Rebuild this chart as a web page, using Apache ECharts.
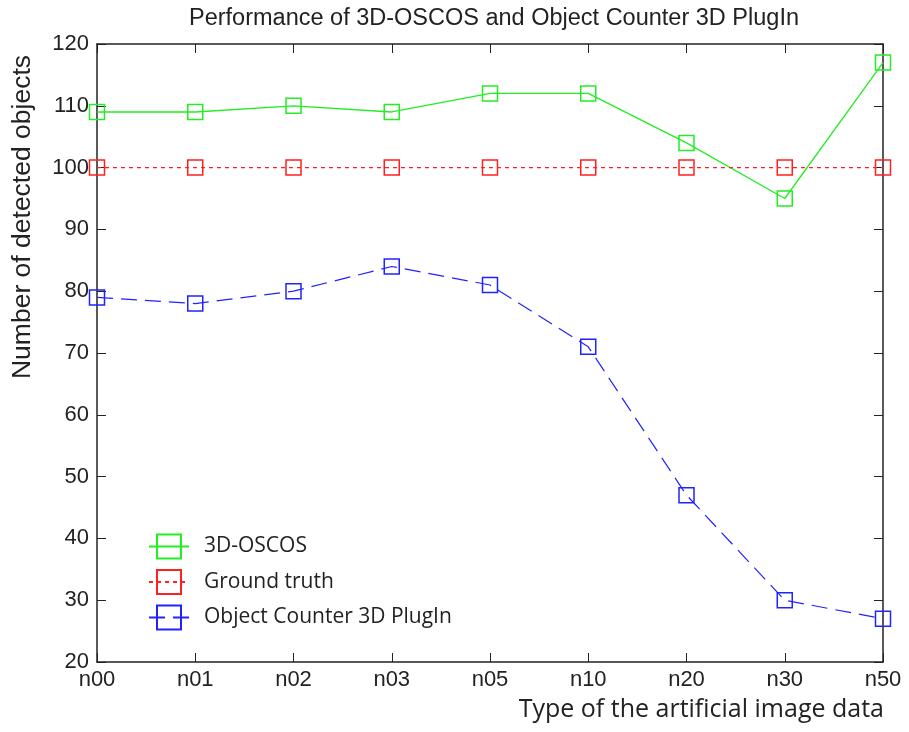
<!DOCTYPE html>
<html><head><meta charset="utf-8">
<script src="https://cdn.jsdelivr.net/npm/echarts@6/dist/echarts.min.js"></script>
<style>html,body{margin:0;padding:0;background:#fff}#c{width:909px;height:732px}</style>
</head><body><div id="c"></div>
<script>
const categories = ['n00','n01','n02','n03','n05','n10','n20','n30','n50'];
const oscos = [109,109,110,109,112,112,104,95,117];
const groundTruth = [100,100,100,100,100,100,100,100,100];
const plugin = [79,78,80,84,81,71,47,30,27];
const yTicks = [20,30,40,50,60,70,80,90,100,110,120];

const chart = echarts.init(document.getElementById('c'));
const axisFont = {fontFamily:'Liberation Sans, Arial', fontSize:22, color:'#222'};
const grid = {left:97, top:44, width:786, height:618};
chart.setOption({
  animation:false,
  backgroundColor:'#fff',
  title:{text:'Performance of 3D-OSCOS and Object Counter 3D PlugIn', left:489, top:2, textAlign:'center',
    textStyle:{fontFamily:'Liberation Sans, Arial', fontSize:23.5, fontWeight:'normal', color:'#222'}},
  grid:grid,
  legend:{orient:'vertical', left:143, top:527, itemWidth:40, itemHeight:30, itemGap:6.5,
    textStyle:{fontFamily:'Open Sans', fontSize:21, color:'#222', padding:[0,0,0,10]},
    data:['3D-OSCOS','Ground truth','Object Counter 3D PlugIn']},
  xAxis:[{type:'category', data:categories, boundaryGap:false,
    axisLine:{lineStyle:{color:'#222', width:1.5}},
    axisTick:{inside:true, length:9, lineStyle:{color:'#222'}},
    axisLabel:Object.assign({margin:7}, axisFont), splitLine:{show:false}},
   {type:'category', data:categories, boundaryGap:false, position:'top',
    axisLine:{lineStyle:{color:'#222', width:1.5}},
    axisTick:{inside:true, length:9, lineStyle:{color:'#222'}},
    axisLabel:{show:false}}],
  yAxis:[{type:'value', min:20, max:120, interval:10,
    axisLine:{show:true, lineStyle:{color:'#222', width:1.5}},
    axisTick:{show:true, inside:true, length:9, lineStyle:{color:'#222'}},
    axisLabel:Object.assign({margin:8, formatter:v=>yTicks.includes(v)?String(v):''}, axisFont),
    splitLine:{show:false}},
   {type:'value', min:20, max:120, interval:10, position:'right',
    axisLine:{show:true, lineStyle:{color:'#222', width:1.5}},
    axisTick:{show:true, inside:true, length:9, lineStyle:{color:'#222'}},
    axisLabel:{show:false}, splitLine:{show:false}}],
  graphic:[
    {type:'text', x:884, y:697, style:{text:'Type of the artificial image data', fontFamily:'Open Sans', fontSize:25, fill:'#222', textAlign:'right'}},
    {type:'text', x:9, y:217, rotation:Math.PI/2, style:{text:'Number of detected objects', fontFamily:'Liberation Sans, Arial', fontSize:26.5, fill:'#222', textAlign:'center', textVerticalAlign:'top'}}
  ],
  series:[
    {name:'3D-OSCOS', type:'line', data:oscos, symbol:'rect', symbolSize:15,
      lineStyle:{color:'#22ee22', width:1.3}, itemStyle:{color:'none', borderColor:'#22ee22', borderWidth:1.5}, color:'#22ee22'},
    {name:'Ground truth', type:'line', data:groundTruth, symbol:'rect', symbolSize:15,
      lineStyle:{color:'#ff2020', width:1.2, type:[4,4]}, itemStyle:{color:'none', borderColor:'#ff2020', borderWidth:1.5}, color:'#ff2020'},
    {name:'Object Counter 3D PlugIn', type:'line', data:plugin, symbol:'rect', symbolSize:15,
      lineStyle:{color:'#2222ff', width:1.2, type:[16,8]}, itemStyle:{color:'none', borderColor:'#2222ff', borderWidth:1.5}, color:'#2222ff'}
  ]
});
</script></body></html>
